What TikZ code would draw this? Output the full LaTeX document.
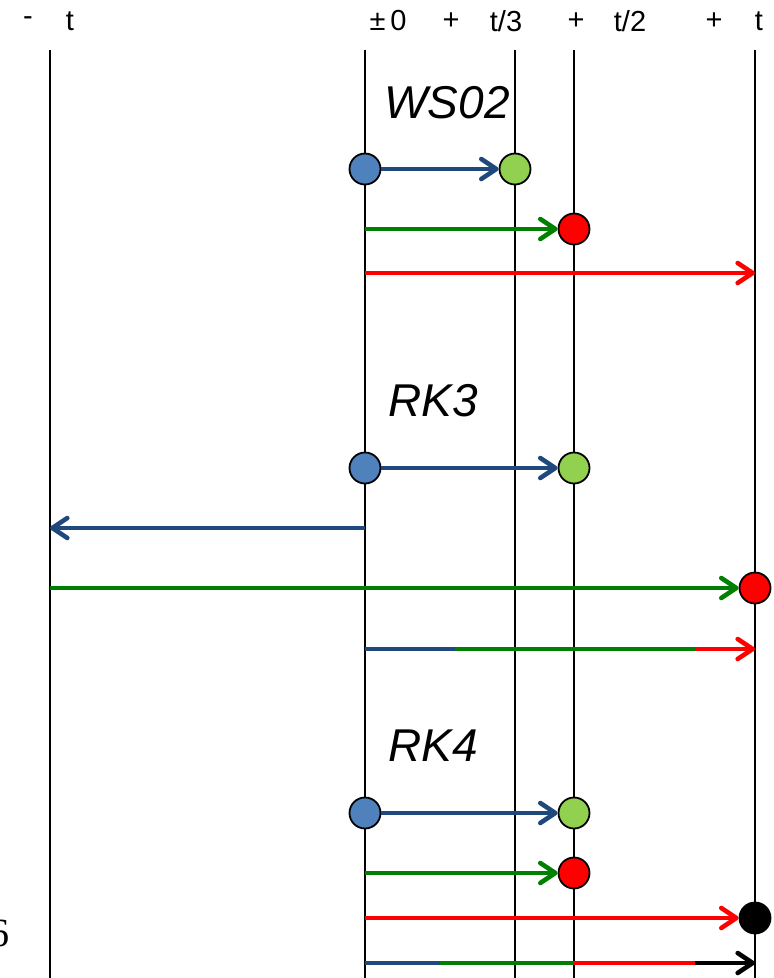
\documentclass[tikz,border=0pt]{standalone}
\usepackage{fontspec}
\setmainfont{Liberation Sans}
\newfontfamily\serifx{Liberation Serif}
\usetikzlibrary{arrows.meta,positioning}
\definecolor{ink}{HTML}{000000}
\definecolor{navy}{HTML}{1F497D}
\definecolor{bluefill}{HTML}{4F81BD}
\definecolor{green}{HTML}{008000}
\definecolor{greenfill}{HTML}{92D050}
\definecolor{red}{HTML}{FF0000}
\tikzset{
  thinline/.style={draw=ink, line width=1.8pt},
  boldline/.style={draw=ink, line width=2.8pt},
  dot/.style={circle, draw=ink, line width=1.8pt, minimum size=31pt, inner sep=0pt},
  bluedot/.style={dot, fill=bluefill},
  greendot/.style={dot, fill=greenfill},
  reddot/.style={dot, fill=red},
  blackdot/.style={dot, fill=ink},
  ticklabel/.style={font=\fontsize{29}{32}\selectfont, text=ink, inner sep=0pt},
  method/.style={font=\fontsize{46}{52}\selectfont\itshape, text=ink, inner sep=0pt},
  seg/.style={line width=4.6pt},
  tip/.style={-{Straight Barb[round, length=15pt, width=20pt]}, line width=4.6pt},
  bluearrow/.style={tip, draw=navy},
  greenarrow/.style={tip, draw=green},
  redarrow/.style={tip, draw=red},
  blackarrow/.style={tip, draw=ink}
}

\begin{document}
\begin{tikzpicture}[x=1pt, y=-1pt]
\useasboundingbox (0,0) rectangle (774,978);
% time lines
\coordinate (mt top) at (50,50);   \coordinate (mt bot) at (50,978);
\coordinate (z top) at (365,50);   \coordinate (z bot) at (365,978);
\coordinate (th top) at (515,50);  \coordinate (th bot) at (515,978);
\coordinate (hf top) at (574,50);  \coordinate (hf bot) at (574,978);
\coordinate (pt top) at (755,50);  \coordinate (pt bot) at (755,978);
\draw[thinline] (mt top) -- (mt bot);
\draw[thinline] (z top) -- (z bot);
\draw[thinline] (th top) -- (th bot);
\draw[boldline] (hf top) -- (hf bot);
\draw[boldline] (pt top) -- (pt bot);
% time labels
\node[ticklabel] (lminus) at (28,21) {-};
\node[ticklabel] (lt0) at (70,21) {t};
\node[ticklabel] (lzero) at (388,21) {±\,0};
\node[ticklabel] (lp1) at (451,21) {+};
\node[ticklabel] (lt3) at (506,21) {t/3};
\node[ticklabel] (lp2) at (576,21) {+};
\node[ticklabel] (lt2) at (630,21) {t/2};
\node[ticklabel] (lp3) at (714,21) {+};
\node[ticklabel] (lt1) at (759,21) {t};
\node[font=\serifx\fontsize{40}{44}\selectfont, inner sep=0pt] (lcut) at (0,933) {6};

% WS02
\node[method] (ws) at (447,103) {WS02};
\node[bluedot] (ws a) at (365,169) {};
\node[greendot] (ws b) at (515,169) {};
\coordinate (ws c0) at (365,229);
\node[reddot] (ws c) at (574,229) {};
\coordinate (ws d0) at (365,273);
\coordinate (ws d) at (755,273);
\draw[bluearrow] (ws a) -- (ws b);
\draw[greenarrow] (ws c0) -- (ws c);
\draw[redarrow] (ws d0) -- (ws d);

% RK3
\node[method] (rk3) at (433,401) {RK3};
\node[bluedot] (rk3 a) at (365,468) {};
\node[greendot] (rk3 b) at (574,468) {};
\coordinate (rk3 c0) at (365,528);
\coordinate (rk3 c) at (50,528);
\coordinate (rk3 d0) at (50,588);
\node[reddot] (rk3 d) at (755,588) {};
\coordinate (rk3 e0) at (365,649);
\coordinate (rk3 e1) at (455,649);
\coordinate (rk3 e2) at (695,649);
\coordinate (rk3 e) at (755,649);
\draw[bluearrow] (rk3 a) -- (rk3 b);
\draw[bluearrow] (rk3 c0) -- (rk3 c);
\draw[greenarrow] (rk3 d0) -- (rk3 d);
\draw[seg, navy] (rk3 e0) -- (rk3 e1);
\draw[seg, green] (rk3 e1) -- (rk3 e2);
\draw[redarrow] (rk3 e2) -- (rk3 e);

% RK4
\node[method] (rk4) at (433,746) {RK4};
\node[bluedot] (rk4 a) at (365,813) {};
\node[greendot] (rk4 b) at (574,813) {};
\coordinate (rk4 c0) at (365,873);
\node[reddot] (rk4 c) at (574,873) {};
\coordinate (rk4 d0) at (365,918);
\node[blackdot] (rk4 d) at (755,918) {};
\coordinate (rk4 e0) at (365,963);
\coordinate (rk4 e1) at (440,963);
\coordinate (rk4 e2) at (574,963);
\coordinate (rk4 e3) at (695,963);
\coordinate (rk4 e) at (755,963);
\draw[bluearrow] (rk4 a) -- (rk4 b);
\draw[greenarrow] (rk4 c0) -- (rk4 c);
\draw[redarrow] (rk4 d0) -- (rk4 d);
\draw[seg, navy] (rk4 e0) -- (rk4 e1);
\draw[seg, green] (rk4 e1) -- (rk4 e2);
\draw[seg, red] (rk4 e2) -- (rk4 e3);
\draw[blackarrow] (rk4 e3) -- (rk4 e);
\end{tikzpicture}
\end{document}
